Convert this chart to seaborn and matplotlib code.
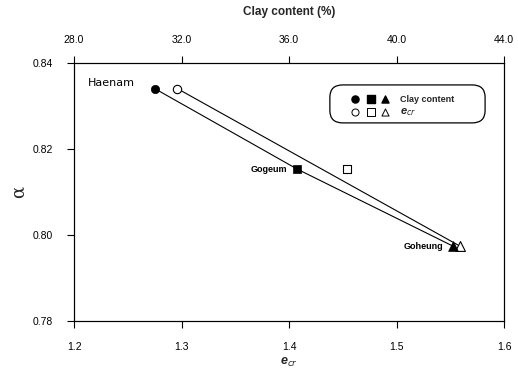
import matplotlib
matplotlib.use("Agg")
import matplotlib.pyplot as plt
from matplotlib.patches import FancyBboxPatch
import seaborn as sns
import pandas as pd

# Site values
sites = ["Haenam", "Gogeum", "Goheung"]
clay_content = [31.0, 36.3, 42.1]      # %
e_cr = [1.296, 1.454, 1.559]
alpha_vals = [0.8340, 0.8153, 0.7974]
marker_shapes = ["o", "s", "^"]

x_ticks = [1.2, 1.3, 1.4, 1.5, 1.6]
clay_ticks = [28.0, 32.0, 36.0, 40.0, 44.0]
y_ticks = [0.78, 0.80, 0.82, 0.84]

df = pd.DataFrame({"site": sites, "clay": clay_content, "ecr": e_cr, "alpha": alpha_vals})

sns.set_theme(style="white")
plt.rcParams["font.family"] = ["Liberation Sans", "DejaVu Sans"]

fig = plt.figure(figsize=(5.18, 3.70), dpi=100)
ax = fig.add_axes([0.1429, 0.1324, 0.8301, 0.6981])
ax_top = ax.twiny()

sizes = {"o": 36, "s": 32, "^": 50}

# e_cr series (open markers, bottom axis)
ax.plot([df.ecr.iloc[0], df.ecr.iloc[-1]], [df.alpha.iloc[0], df.alpha.iloc[-1]],
        color="black", lw=0.8, zorder=2)
for _, r in df.iterrows():
    m = marker_shapes[sites.index(r.site)]
    sns.scatterplot(x=[r.ecr], y=[r.alpha], ax=ax, marker=m, s=sizes[m],
                    facecolor="white", edgecolor="black", linewidth=0.8, zorder=3)

# Clay content series (filled markers, top axis)
sns.lineplot(data=df, x="clay", y="alpha", ax=ax_top, color="black", lw=0.8,
             sort=False, zorder=2)
for _, r in df.iterrows():
    m = marker_shapes[sites.index(r.site)]
    sns.scatterplot(x=[r.clay], y=[r.alpha], ax=ax_top, marker=m, s=sizes[m],
                    color="black", edgecolor="black", linewidth=0.5, zorder=3)

ax.set_xlim(1.2, 1.6)
ax.set_ylim(0.78, 0.84)
ax_top.set_xlim(28.0, 44.0)
ax_top.set_ylim(0.78, 0.84)

ax.set_xticks(x_ticks)
ax.set_xticklabels([f"{v:.1f}" for v in x_ticks])
ax.set_yticks(y_ticks)
ax.set_yticklabels([f"{v:.2f}" for v in y_ticks])
ax_top.set_xticks(clay_ticks)
ax_top.set_xticklabels([f"{v:.1f}" for v in clay_ticks])

for a in (ax, ax_top):
    for s in a.spines.values():
        s.set_color("black")
        s.set_linewidth(0.8)
    a.tick_params(direction="out", length=5, width=0.8, color="black",
                  labelsize=7.5, labelcolor="black")
ax.tick_params(axis="x", bottom=True, top=False, pad=10)
ax.tick_params(axis="y", left=True, right=False, pad=10)
ax_top.tick_params(axis="x", top=True, bottom=False, pad=8)
ax_top.tick_params(axis="y", left=False, right=False, labelleft=False, labelright=False)

ax.set_xlabel("e$_{cr}$", fontsize=9, fontweight="bold", style="italic", labelpad=3)
ax.set_ylabel("α", fontsize=13, labelpad=4, family="DejaVu Serif")
ax_top.set_xlabel("Clay content (%)", fontsize=8.5, fontweight="bold", labelpad=14)

# Site labels
ax.text(0.033, 0.921, "Haenam", transform=ax.transAxes, fontsize=8,
        ha="left", va="center", family="DejaVu Sans", color="black")
for i in (1, 2):
    ax_top.annotate(sites[i], (df.clay.iloc[i], df.alpha.iloc[i]), xytext=(-7, 0),
                    textcoords="offset points", ha="right", va="center",
                    fontsize=6.5, fontweight="bold", color="black")

# Legend box
box = FancyBboxPatch((0.595, 0.767), 0.361, 0.147, transform=ax.transAxes,
                     boxstyle="round,pad=0,rounding_size=0.03", fc="white",
                     ec="black", lw=0.9, zorder=5, mutation_aspect=1.6)
ax.add_patch(box)
lx = [0.653, 0.691, 0.723]
for x, m in zip(lx, marker_shapes):
    ax.scatter([x], [0.859], transform=ax.transAxes, marker=m, s=26, c="black", zorder=6, clip_on=False)
    ax.scatter([x], [0.810], transform=ax.transAxes, marker=m, s=26, facecolor="white",
               edgecolor="black", linewidths=0.7, zorder=6, clip_on=False)
ax.text(0.758, 0.859, "Clay content", transform=ax.transAxes, fontsize=6.5,
        fontweight="bold", va="center", zorder=6)
ax.text(0.758, 0.810, "e$_{cr}$", transform=ax.transAxes, fontsize=8,
        fontweight="bold", style="italic", va="center", zorder=6)

fig.savefig("out.png", dpi=100)
